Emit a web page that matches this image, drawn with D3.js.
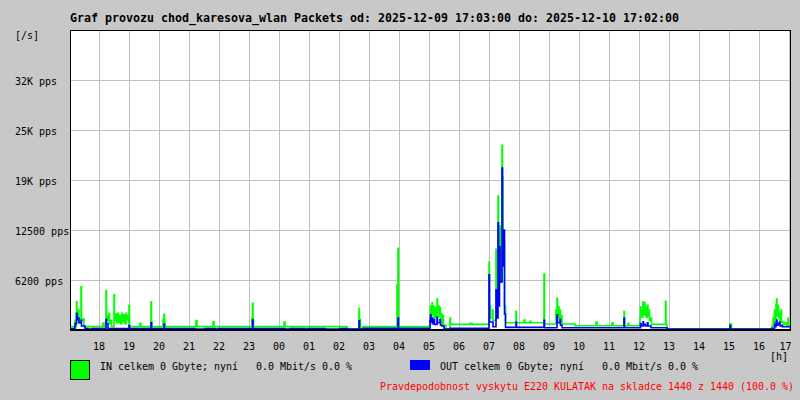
<!DOCTYPE html>
<html><head><meta charset="utf-8">
<script src="https://cdn.jsdelivr.net/npm/d3@7"></script>
<style>
body{margin:0;background:#c8c8c8}
svg{display:block}
text{font-family:"DejaVu Sans Mono",monospace;white-space:pre}
</style>
</head><body>
<svg id="c" width="800" height="400"></svg>
<script>
// ---- data: [minutes after 2025-12-09 17:03, packets per second] ----
const titleText = "Graf provozu chod_karesova_wlan Packets od: 2025-12-09 17:03:00 do: 2025-12-10 17:02:00";
const inSeries = [
 [0,420],[10,1200],[12,420],[13,3540],[14,1500],[17,2500],[18,900],[22,5400],[23,1200],[27,1400],[28,420],
 [66,870],[68,420],[72,4900],[73,1800],[75,1200],[78,2080],[79,800],[82,1200],[83,420],[88,4400],[89,1200],
 [92,2000],[93,900],[96,2080],[97,1000],[100,1800],[101,800],[104,2080],[105,1100],[108,1900],[109,800],
 [112,2080],[113,1300],[116,1800],[117,900],[118,3100],[119,420],
 [140,830],[142,420],[162,3540],[163,1000],[164,420],[186,1300],[188,1960],[189,900],[190,420],
 [252,1170],[254,420],[286,1040],[288,420],[364,1500],[365,3330],[366,1200],[367,420],[428,1000],[430,420],
 [554,0],[578,2700],[579,1300],[581,0],[586,420],[654,5600],[656,10200],[657,420],
 [720,1500],[721,3000],[722,1800],[724,3400],[725,2000],[727,3000],[728,1500],[730,2800],[731,1600],
 [734,3870],[735,2200],[737,3000],[738,1700],[740,2800],[741,1500],[743,2000],[744,800],[746,1800],[747,600],
 [752,100],[760,1500],[761,700],[800,850],[804,700],
 [838,8450],[839,3000],[841,1500],[845,2500],[846,1200],[852,10100],[853,4000],[856,16750],[857,8000],
 [859,9000],[860,13000],[861,6000],[864,23100],[865,19150],[866,8000],[868,11000],[869,3000],[871,900],
 [892,2300],[893,900],[908,1250],[910,900],[920,1100],[922,900],[948,7000],[949,750],
 [972,2500],[973,1200],[974,3960],[975,1800],[977,2900],[978,1500],[980,2500],[981,1200],[983,1800],[984,750],
 [1010,540],[1052,1000],[1054,540],[1084,900],[1086,540],[1108,2300],[1109,540],[1116,800],[1118,540],
 [1140,1500],[1141,2900],[1142,1800],[1144,2400],[1145,1600],[1146,3540],[1147,2000],[1149,3400],[1150,1800],
 [1152,2800],[1153,1600],[1155,3100],[1156,1800],[1158,2500],[1159,1200],[1162,1500],[1163,700],
 [1191,3600],[1192,700],[1194,0],[1320,750],[1323,0],
 [1404,500],[1406,1500],[1407,900],[1409,2500],[1410,1300],[1412,3200],[1413,3870],[1414,1800],[1416,3100],
 [1417,1500],[1419,2200],[1420,1200],[1422,2500],[1423,900],[1426,1000],[1428,700],[1432,900],[1434,600],
 [1436,1450],[1437,500]
];
const outSeries = [
 [0,180],[10,800],[13,2080],[14,1300],[17,1500],[18,900],[22,1200],[23,500],[30,180],[36,0],[44,180],
 [72,1330],[73,800],[76,180],[118,600],[119,180],[162,900],[163,180],[188,700],[189,180],
 [250,0],[270,180],[290,0],[296,180],[365,1250],[366,180],[430,0],[440,180],[470,0],[476,180],
 [510,0],[540,180],[554,0],[578,1150],[579,0],[586,200],[656,1500],[657,200],
 [720,1200],[721,1900],[722,1000],[724,1500],[725,800],[728,1300],[729,700],[734,1600],[735,900],
 [740,1300],[741,600],[744,500],[748,0],[760,200],[802,0],[806,200],[820,0],[822,200],
 [838,6900],[839,1000],[846,400],[852,5000],[853,1500],[856,13400],[857,3000],[859,10400],[860,6000],
 [864,20250],[865,8000],[868,12500],[869,2000],[871,330],
 [892,1000],[893,330],[948,1200],[949,290],[974,1900],[975,900],[980,1300],[981,600],[984,290],
 [1108,1460],[1109,290],[1141,800],[1142,500],[1146,1040],[1147,600],[1150,700],[1151,500],[1155,900],
 [1156,500],[1162,290],[1194,0],[1320,600],[1321,0],
 [1404,200],[1409,700],[1410,400],[1412,1000],[1413,1250],[1414,600],[1416,800],[1419,1000],[1420,500],
 [1424,600],[1425,400]
];
const yTickValues = [6250,12500,18750,25000,31250];
const yTickLabels = ["6200 pps","12500 pps","19K pps","25K pps","32K pps"];
const hourLabels = ["18","19","20","21","22","23","00","01","02","03","04","05","06","07","08","09","10","11","12","13","14","15","16","17"];
const legendIn  = "IN celkem 0 Gbyte; nyní   0.0 Mbit/s 0.0 %";
const legendOut = "OUT celkem 0 Gbyte; nyní   0.0 Mbit/s 0.0 %";
const footText  = "Pravdepodobnost vyskytu E220 KULATAK na skladce 1440 z 1440 (100.0 %)";
const yMax = 37500;

// ---- drawing ----
const start = new Date(2025,11,9,17,3);
const end = new Date(start.getTime() + 1440*60000);
const L=70,R=790,T=30,B=330;
const svg = d3.select("#c");
const x = d3.scaleTime().domain([start,end]).range([L,R]);
const y = d3.scaleLinear().domain([0,yMax]).range([B,T]);

svg.append("rect").attr("x",L).attr("y",T).attr("width",R-L).attr("height",B-T).attr("fill","#fff");

const hours = d3.timeHour.range(d3.timeHour.ceil(start), end);
const xAxis = d3.axisBottom(x).tickValues(hours).tickSize(-(B-T)).tickPadding(13)
  .tickFormat((d,i)=>hourLabels[i]);
const gx = svg.append("g").attr("transform",`translate(0,${B})`).call(xAxis);
gx.select(".domain").remove();
gx.selectAll(".tick line").attr("stroke","#c0c0c0").attr("shape-rendering","crispEdges");
gx.selectAll(".tick text").attr("font-size","10px").attr("fill","#000")
  .attr("font-family","DejaVu Sans Mono").attr("dy","0.71em").attr("y",13);
gx.selectAll(".tick").filter((d,i)=>i===hours.length-1).select("text")
  .attr("text-anchor","end").attr("x", R - x(hours[hours.length-1]) + 1);

const yAxis = d3.axisLeft(y).tickValues(yTickValues).tickSize(-(R-L))
  .tickFormat((d,i)=>yTickLabels[i]);
const gy = svg.append("g").attr("transform",`translate(${L},0)`).call(yAxis);
gy.select(".domain").remove();
gy.selectAll(".tick line").attr("stroke","#c0c0c0").attr("shape-rendering","crispEdges");
gy.selectAll(".tick text").attr("font-size","10px").attr("fill","#000")
  .attr("font-family","DejaVu Sans Mono").attr("text-anchor","start")
  .attr("x",15-L).attr("dy",null).attr("y",4.5);

function series(pairs){
  const pts = pairs.map(p=>({t:new Date(start.getTime()+p[0]*60000), v:p[1]}));
  pts.push({t:end, v:pairs[pairs.length-1][1]});
  return pts;
}
const line = d3.line().x(d=>x(d.t)).y(d=>Math.min(y(d.v),B-1)).curve(d3.curveStepAfter);
svg.append("path").datum(series(inSeries)).attr("d",line)
  .attr("fill","none").attr("stroke","#00ff00").attr("stroke-width",1.6).attr("stroke-linejoin","miter");
svg.append("path").datum(series(outSeries)).attr("d",line)
  .attr("fill","none").attr("stroke","#0000ff").attr("stroke-width",1.6).attr("stroke-linejoin","miter");

// frame
svg.append("rect").attr("x",L+0.5).attr("y",T+0.5).attr("width",R-L).attr("height",B-T-0.5)
  .attr("fill","none").attr("stroke","#000");
svg.append("line").attr("x1",L).attr("x2",R+1).attr("y1",B).attr("y2",B).attr("stroke","#000").attr("stroke-width",2);

// texts
svg.append("text").attr("x",L).attr("y",22).attr("font-size","11.63px").attr("font-weight","bold").text(titleText);
svg.append("text").attr("x",15).attr("y",39).attr("font-size","10px").text("[/s]");
svg.append("text").attr("x",770).attr("y",360).attr("font-size","10px").text("[h]");

svg.append("rect").attr("x",70.5).attr("y",360.5).attr("width",19).attr("height",19).attr("fill","#00ff00").attr("stroke","#000");
svg.append("text").attr("x",100).attr("y",370).attr("font-size","9.97px").text(legendIn);
svg.append("rect").attr("x",410).attr("y",360).attr("width",20).attr("height",10).attr("fill","#0000ff");
svg.append("text").attr("x",440).attr("y",370).attr("font-size","9.97px").text(legendOut);
svg.append("text").attr("x",380).attr("y",390).attr("font-size","9.97px").attr("fill","#ff0000").text(footText);
</script>
</body></html>
